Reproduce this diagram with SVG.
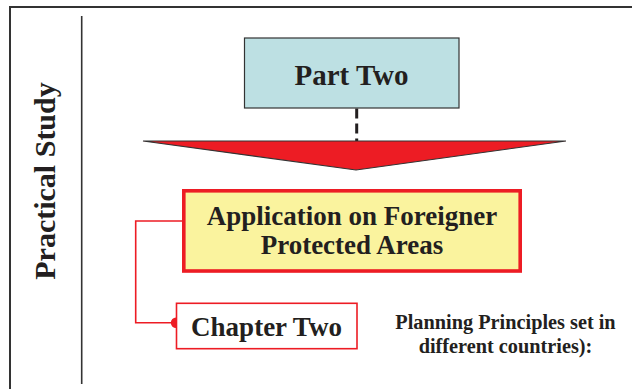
<svg xmlns="http://www.w3.org/2000/svg" width="632" height="389" viewBox="0 0 632 389">
  <style>
    .t { font-family: "Liberation Serif", "Times New Roman", serif; font-weight: bold; fill: #231F20; text-anchor: middle; }
    .frame { stroke: #333333; fill: none; }
    .red { stroke: #ED1C24; }
  </style>
  <rect width="632" height="389" fill="#FFFFFF"/>

  <!-- page frame and side divider -->
  <g id="frame">
    <polyline class="frame" stroke-width="2" points="10,389 10,7 632,7"/>
    <line class="frame" stroke="#231F20" stroke-width="1.6" x1="81.7" y1="16" x2="81.7" y2="384"/>
  </g>

  <!-- vertical section title -->
  <g id="section-title">
    <text class="t" font-size="30" transform="translate(55,181) rotate(-90)">Practical Study</text>
  </g>

  <!-- connectors -->
  <g id="connectors">
    <line x1="356.7" y1="108.5" x2="356.7" y2="141" stroke="#231F20" stroke-width="3" stroke-dasharray="10 5"/>
    <polygon points="143,141 566,141 356,170" fill="#ED1C24" stroke="#333333" stroke-width="1.2" stroke-linejoin="miter"/>
    <polyline class="red" fill="none" stroke-width="1.6" points="182,221 135.7,221 135.7,322.7 176,322.7"/>
    <circle cx="176" cy="322.7" r="5.2" fill="#ED1C24"/>
  </g>

  <g id="part-two">
    <rect x="244.5" y="38" width="214.5" height="70" fill="#BDE0E3" stroke="#333333" stroke-width="1.2"/>
    <text class="t" x="351.5" y="85" font-size="29">Part Two</text>
  </g>

  <g id="application">
    <rect x="183.8" y="190.8" width="336.4" height="80.2" fill="#FAF39E" stroke="#ED1C24" stroke-width="3.6"/>
    <text class="t" x="352" y="225" font-size="27">Application on Foreigner</text>
    <text class="t" x="352" y="254" font-size="27">Protected Areas</text>
  </g>

  <g id="chapter-two">
    <rect x="176.5" y="303.3" width="180.5" height="45.4" fill="#FFFFFF" stroke="#ED1C24" stroke-width="1.6"/>
    <text class="t" x="266.5" y="336" font-size="27">Chapter Two</text>
  </g>

  <g id="planning-note">
    <text class="t" x="505.5" y="329" font-size="20.3">Planning Principles set in</text>
    <text class="t" x="505.5" y="353" font-size="20.3">different countries):</text>
  </g>
</svg>
